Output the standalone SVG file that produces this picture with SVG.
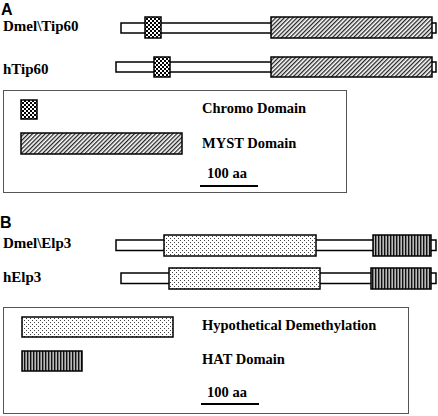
<svg xmlns="http://www.w3.org/2000/svg" width="438" height="416" viewBox="0 0 438 416">
<defs>
<pattern id="checker" patternUnits="userSpaceOnUse" width="4" height="4">
<rect width="4" height="4" fill="#fff"/>
<rect x="0" y="0" width="2" height="2" fill="#000"/>
<rect x="2" y="2" width="2" height="2" fill="#000"/>
</pattern>
<pattern id="hatch" patternUnits="userSpaceOnUse" width="3" height="3" patternTransform="rotate(45)">
<rect width="3" height="3" fill="#fff"/>
<rect x="0" y="0" width="1.3" height="3" fill="#222"/>
</pattern>
<pattern id="dots" patternUnits="userSpaceOnUse" width="4" height="4">
<rect width="4" height="4" fill="#fff"/>
<rect x="0" y="0" width="1" height="1" fill="#444"/>
<rect x="2" y="2" width="1" height="1" fill="#444"/>
</pattern>
<pattern id="stripes" patternUnits="userSpaceOnUse" width="3" height="3">
<rect width="3" height="3" fill="#bbb"/>
<rect x="0" y="0" width="1.4" height="3" fill="#111"/>
</pattern>
<style>
.lbl{font-family:"Liberation Serif","Times New Roman",serif;font-weight:bold;font-size:15px;fill:#000}
.leg{font-family:"Liberation Serif","Times New Roman",serif;font-weight:bold;font-size:14.5px;fill:#000}
.pan{font-family:"Liberation Sans",Arial,sans-serif;font-weight:bold;font-size:16px;fill:#000}
.bb{fill:#fff;stroke:#000;stroke-width:1.5}
.dom{stroke:#000;stroke-width:1.5}
.box{fill:none;stroke:#555;stroke-width:1}
.scale{stroke:#000;stroke-width:2}
</style>
</defs>
<rect width="438" height="416" fill="#fff"/>

<g id="panelA">
<text class="pan" x="1" y="15">A</text>
<g id="dmel-tip60">
<text class="lbl" x="3" y="31">Dmel\Tip60</text>
<rect class="bb" x="121" y="23" width="315" height="10"/>
<rect class="dom" fill="url(#checker)" x="145" y="17" width="16" height="21"/>
<rect class="dom" fill="url(#hatch)" x="271" y="17" width="161" height="21"/>
</g>
<g id="htip60">
<text class="lbl" x="3" y="74">hTip60</text>
<rect class="bb" x="116" y="62" width="320" height="10"/>
<rect class="dom" fill="url(#checker)" x="154" y="57" width="16" height="20"/>
<rect class="dom" fill="url(#hatch)" x="271" y="57" width="161" height="20"/>
</g>
<g id="legendA">
<rect class="box" x="3.5" y="90.5" width="343" height="102"/>
<rect class="dom" fill="url(#checker)" x="21" y="100" width="16" height="19"/>
<text class="leg" x="202" y="113">Chromo Domain</text>
<rect class="dom" fill="url(#hatch)" x="21" y="133" width="161" height="21"/>
<text class="leg" x="202" y="148">MYST Domain</text>
<text class="leg" x="207" y="178">100 aa</text>
<line class="scale" x1="200" y1="186" x2="258" y2="186"/>
</g>
</g>

<g id="panelB">
<text class="pan" x="0" y="228">B</text>
<g id="dmel-elp3">
<text class="lbl" x="3" y="248">Dmel\Elp3</text>
<rect class="bb" x="116" y="240" width="320" height="10.5"/>
<rect class="dom" fill="url(#dots)" x="164" y="235" width="152" height="21"/>
<rect class="dom" fill="url(#stripes)" x="373" y="235" width="58" height="21"/>
</g>
<g id="help3">
<text class="lbl" x="3" y="282">hElp3</text>
<rect class="bb" x="121" y="273" width="315" height="10.5"/>
<rect class="dom" fill="url(#dots)" x="169" y="268" width="151" height="21"/>
<rect class="dom" fill="url(#stripes)" x="371" y="268" width="60" height="21" stroke-width="2"/>
</g>
<g id="legendB">
<rect class="box" x="3.5" y="307.5" width="405" height="106"/>
<rect class="dom" fill="url(#dots)" x="22" y="317" width="151" height="20"/>
<text class="leg" x="202" y="330">Hypothetical Demethylation</text>
<rect class="dom" fill="url(#stripes)" x="22" y="351" width="60" height="20"/>
<text class="leg" x="202" y="364">HAT Domain</text>
<text class="leg" x="207" y="397">100 aa</text>
<line class="scale" x1="201" y1="404" x2="259" y2="404"/>
</g>
</g>
</svg>
